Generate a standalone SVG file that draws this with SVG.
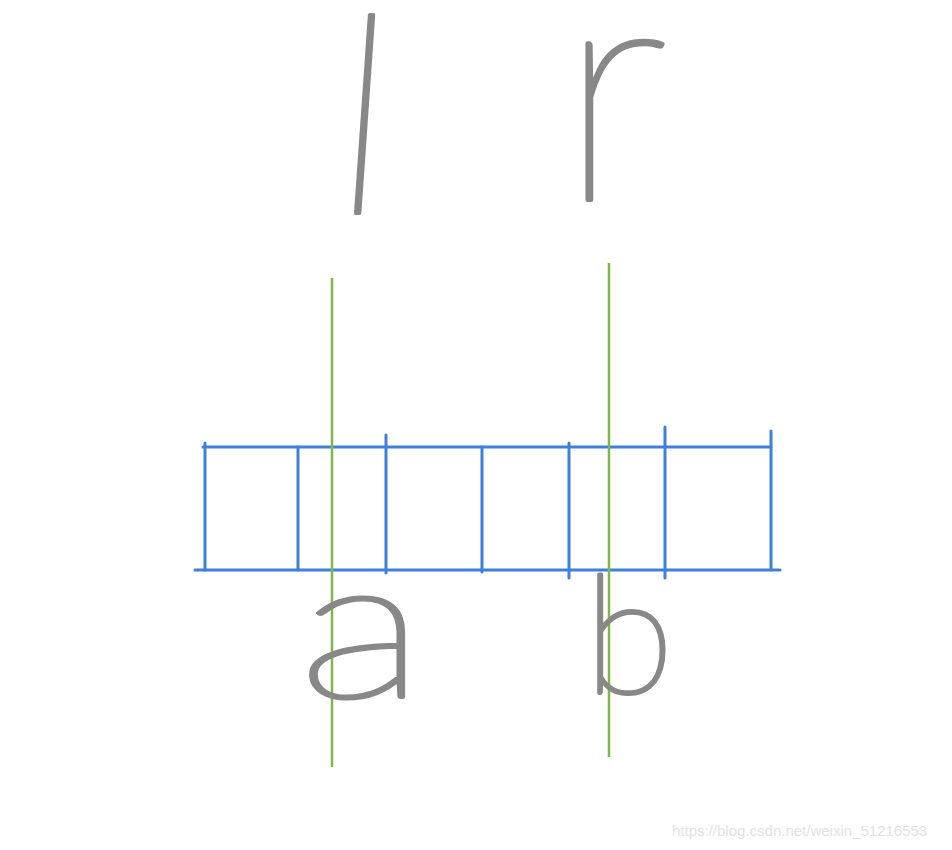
<svg xmlns="http://www.w3.org/2000/svg" width="952" height="850" viewBox="0 0 952 850">
<style>
.grid{stroke:#3f80d8;stroke-width:3;stroke-linecap:round;fill:none}
.guide{stroke:#7cb84a;stroke-width:2.5;fill:none}
.hand{font-family:Lato,"Liberation Sans",sans-serif;font-weight:100;fill:#888888;stroke:#888888;stroke-width:4;stroke-linejoin:round}
.wm{font-family:"Liberation Sans",Arial,sans-serif;font-size:15px;fill:#e2e2e2}
</style>
<rect width="952" height="850" fill="#ffffff"/>
<g id="array">
<line class="grid" x1="203" y1="447" x2="771" y2="447"/>
<line class="grid" x1="195" y1="570" x2="780" y2="570"/>
<line class="grid" x1="205" y1="443" x2="205" y2="570"/>
<line class="grid" x1="298" y1="447" x2="298" y2="570"/>
<line class="grid" x1="386" y1="435" x2="386" y2="573"/>
<line class="grid" x1="482" y1="447" x2="482" y2="572"/>
<line class="grid" x1="569" y1="443" x2="569" y2="578"/>
<line class="grid" x1="665" y1="427" x2="665" y2="578"/>
<line class="grid" x1="771" y1="431" x2="771" y2="568"/>
</g>
<g id="connectors">
<line class="guide" x1="332" y1="278" x2="332" y2="767"/>
<line class="guide" x1="609" y1="263" x2="609" y2="757"/>
</g>
<g id="label-l"><text class="hand" x="330" y="213" font-size="275" transform="skewX(-4) translate(14 0)">l</text></g>
<g id="label-r"><text class="hand" x="558" y="200" font-size="320">r</text></g>
<g id="label-a"><text class="hand" x="298" y="697" font-size="200" textLength="128" lengthAdjust="spacingAndGlyphs">a</text></g>
<g id="label-b"><text class="hand" x="584" y="693" font-size="165">b</text></g>
<text class="wm" x="672" y="836">https://blog.csdn.net/weixin_51216553</text>
</svg>
